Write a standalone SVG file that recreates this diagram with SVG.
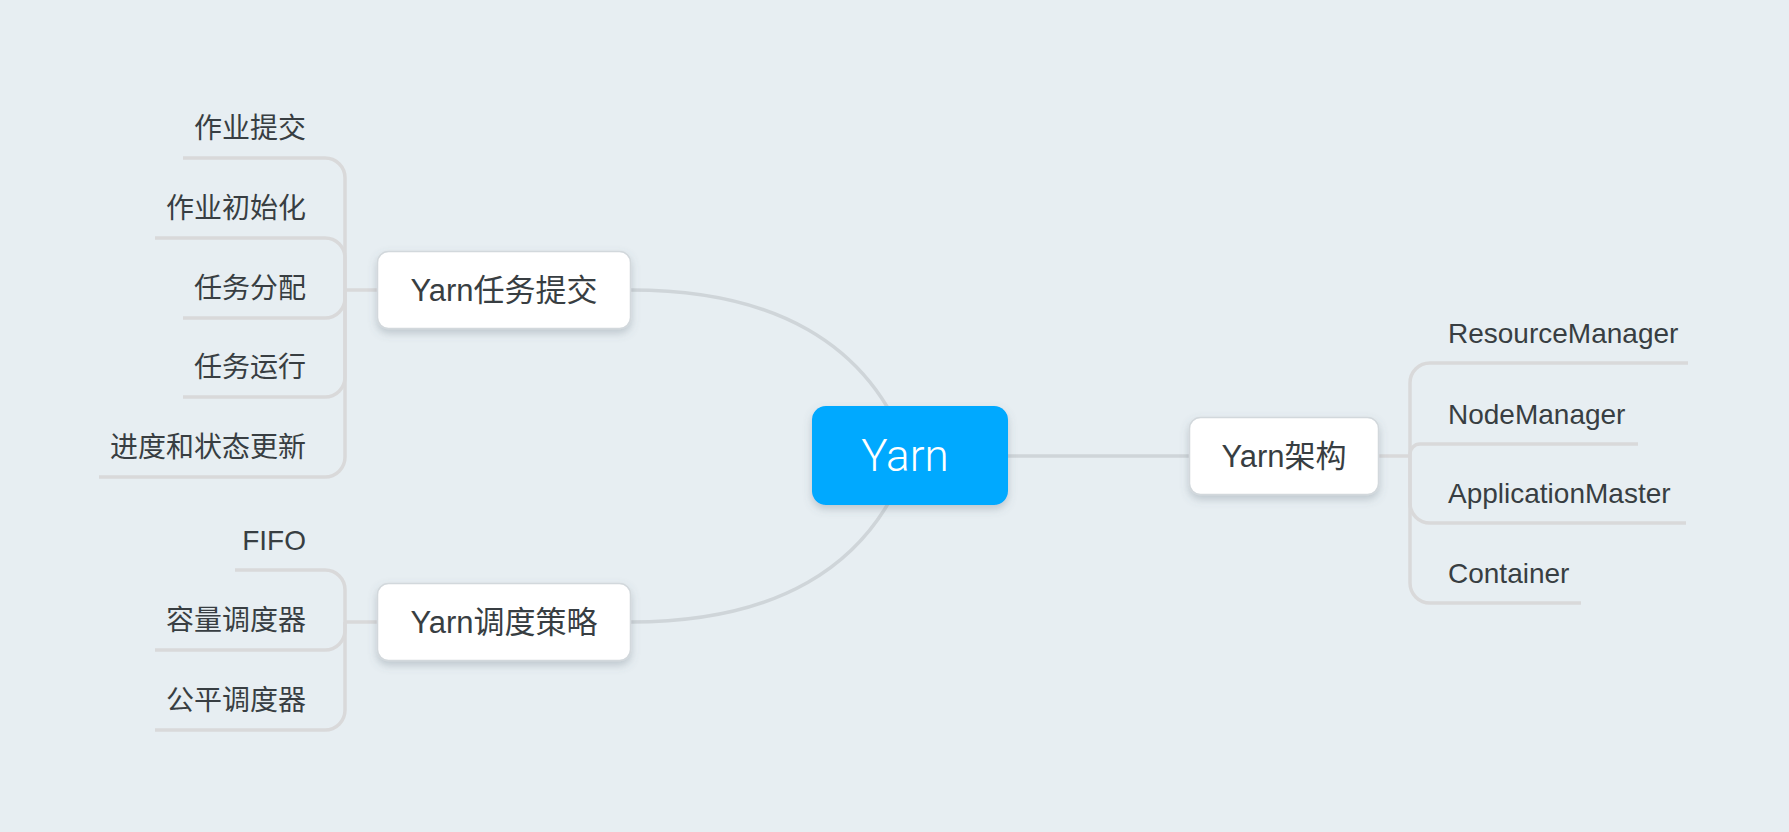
<svg xmlns="http://www.w3.org/2000/svg" width="1789" height="832" viewBox="0 0 1789 832">
<defs>
<filter id="sh" x="-20%" y="-20%" width="140%" height="160%">
<feDropShadow dx="0" dy="4" stdDeviation="4" flood-color="#5a6a75" flood-opacity="0.3"/>
</filter>
<style>
.bg{fill:#e7eef2}
.main{fill:none;stroke:#cfd5d9;stroke-width:3.5}
.br{fill:none;stroke:#d9d9da;stroke-width:3.5}
.box{fill:#ffffff;stroke:#d2d8dc;stroke-width:1.5}
.t1{font-family:"Liberation Sans","Noto Sans CJK SC",sans-serif;font-size:31px;fill:#383e42;text-anchor:middle}
.t2{font-family:"Liberation Sans","Noto Sans CJK SC",sans-serif;font-size:28px;fill:#383e42}
.l{text-anchor:end}
.root{font-family:"Roboto","Open Sans","Liberation Sans",sans-serif;font-weight:300;font-size:44px;fill:#ffffff;text-anchor:middle}
</style>
</defs>
<rect class="bg" x="0" y="0" width="1789" height="832"/>
<g id="connectors">
<path class="main" d="M631,290 C770,290 870,340 910,456"/>
<path class="main" d="M631,622 C770,622 870,572 910,456"/>
<path class="main" d="M1008,456 H1189"/>
<path class="br" d="M377,290 H345"/>
<path class="br" d="M345,290 V178 A20 20 0 0 0 325,158 H183"/>
<path class="br" d="M345,290 V258 A20 20 0 0 0 325,238 H155"/>
<path class="br" d="M345,290 V298 A20 20 0 0 1 325,318 H183"/>
<path class="br" d="M345,290 V377 A20 20 0 0 1 325,397 H183"/>
<path class="br" d="M345,290 V457 A20 20 0 0 1 325,477 H99"/>
<path class="br" d="M377,622 H345"/>
<path class="br" d="M345,622 V590 A20 20 0 0 0 325,570 H235"/>
<path class="br" d="M345,622 V630 A20 20 0 0 1 325,650 H155"/>
<path class="br" d="M345,622 V710 A20 20 0 0 1 325,730 H155"/>
<path class="br" d="M1379,456 H1410"/>
<path class="br" d="M1410,456 V383 A20 20 0 0 1 1430,363 H1688"/>
<path class="br" d="M1410,456 V454 A10 10 0 0 1 1420,444 H1638"/>
<path class="br" d="M1410,456 V503 A20 20 0 0 0 1430,523 H1686"/>
<path class="br" d="M1410,456 V583 A20 20 0 0 0 1430,603 H1581"/>
</g>
<g id="yarn">
<rect x="812" y="406" width="196" height="99" rx="14" fill="#00a9ff" filter="url(#sh)"/>
<text class="root" x="905" y="471">Yarn</text>
</g>
<g id="submit">
<rect class="box" x="377.5" y="251.5" width="253" height="77" rx="11" filter="url(#sh)"/>
<text class="t1" x="504" y="301">Yarn任务提交</text>
</g>
<g id="schedule">
<rect class="box" x="377.5" y="583.5" width="253" height="77" rx="11" filter="url(#sh)"/>
<text class="t1" x="504" y="633">Yarn调度策略</text>
</g>
<g id="arch">
<rect class="box" x="1189.5" y="417.5" width="189" height="77" rx="11" filter="url(#sh)"/>
<text class="t1" x="1284" y="467">Yarn架构</text>
</g>
<g id="s1"><text class="t2 l" x="306" y="138">作业提交</text></g>
<g id="s2"><text class="t2 l" x="306" y="218">作业初始化</text></g>
<g id="s3"><text class="t2 l" x="306" y="298">任务分配</text></g>
<g id="s4"><text class="t2 l" x="306" y="377">任务运行</text></g>
<g id="s5"><text class="t2 l" x="306" y="457">进度和状态更新</text></g>
<g id="p1"><text class="t2 l" x="306" y="550">FIFO</text></g>
<g id="p2"><text class="t2 l" x="306" y="630">容量调度器</text></g>
<g id="p3"><text class="t2 l" x="306" y="710">公平调度器</text></g>
<g id="a1"><text class="t2" x="1448" y="343">ResourceManager</text></g>
<g id="a2"><text class="t2" x="1448" y="424">NodeManager</text></g>
<g id="a3"><text class="t2" x="1448" y="503">ApplicationMaster</text></g>
<g id="a4"><text class="t2" x="1448" y="583">Container</text></g>
</svg>
